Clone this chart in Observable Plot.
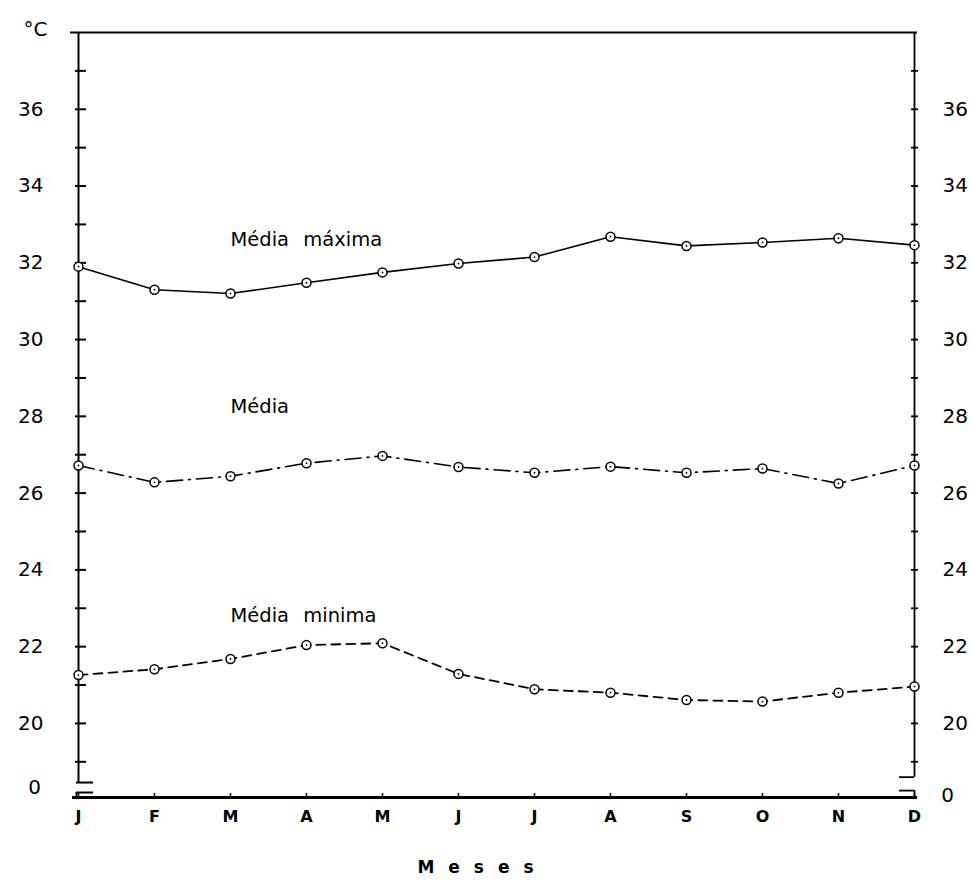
<!DOCTYPE html>
<html><head><meta charset="utf-8">
<script src="https://cdn.jsdelivr.net/npm/d3@7"></script>
<script src="https://cdn.jsdelivr.net/npm/@observablehq/plot@0.6"></script>
<style>body{margin:0;background:#fff}</style>
</head><body><div id="chart"></div>
<script>
const months = ["Jan","Fev","Mar","Abr","Mai","Jun","Jul","Ago","Set","Out","Nov","Dez"];
const mediaMaxima = [31.9,31.3,31.2,31.48,31.75,31.98,32.15,32.68,32.44,32.53,32.64,32.46];
const media = [26.72,26.28,26.44,26.78,26.97,26.68,26.53,26.69,26.53,26.64,26.25,26.72];
const mediaMinima = [21.26,21.41,21.68,22.04,22.09,21.29,20.89,20.80,20.61,20.57,20.80,20.96];
const yTicks = d3.range(19, 38);
const yTickLabels = [20,22,24,26,28,30,32,34,36];
const labelText = ["Média máxima","Média","Média minima"];
const labelMonth = ["Mar","Mar","Mar"];
const labelValue = [32.45,28.1,22.64];
const yBase = 18.07, yTop = 38;
const zeroLabelLeft = 18.33, zeroLabelRight = 18.12;

const rows = (vals) => months.map((m,i)=>({month:m, value:vals[i]}));
const maxRows = rows(mediaMaxima), medRows = rows(media), minRows = rows(mediaMinima);
const labels = labelText.map((t,i)=>({text:t, month:labelMonth[i], value:labelValue[i]}));

const dots = (data) => [
  Plot.dot(data, {x:"month", y:"value", r:4.5, fill:"white", stroke:"black", strokeWidth:1.5}),
  Plot.dot(data, {x:"month", y:"value", r:0.9, fill:"black"})
];

const chart = Plot.plot({
  width: 973, height: 887,
  marginLeft: 75, marginRight: 56, marginTop: 32, marginBottom: 90,
  style: {fontFamily: "DejaVu Sans", background: "white", color: "black"},
  x: {type:"point", domain: months, padding: 0},
  y: {domain:[yBase, yTop]},
  marks: [
    Plot.ruleY([yTop], {insetLeft:-5, strokeWidth:1.8}),
    Plot.ruleX(["Jan"], {x: d=>d, y1: 18.46, y2: yTop, strokeWidth:2}),
    Plot.ruleX(["Dez"], {x: d=>d, y1: 18.6, y2: yTop, strokeWidth:1.8}),
    Plot.ruleY([yBase], {strokeWidth:3, insetLeft:-3}),
    Plot.ruleY([18.46, 18.2], {y: d=>d, x1: ()=>"Jan", x2: ()=>"Jan", insetLeft:-2, insetRight:-15, strokeWidth:2}),
    Plot.ruleX(["Jan"], {x: d=>d, y1: yBase, y2: 18.2, dx:-2, strokeWidth:2}),
    Plot.ruleY([18.6, 18.25], {y: d=>d, x1: ()=>"Dez", x2: ()=>"Dez", insetLeft:-15, strokeWidth:1.8}),
    Plot.ruleX(["Dez"], {x: d=>d, y1: yBase, y2: 18.25, strokeWidth:1.8}),
    Plot.axisY(yTicks, {anchor:"left", tickSize:-11, strokeWidth:2, tickFormat: ()=>"", label:null}),
    Plot.axisY(yTickLabels, {anchor:"left", tickSize:0, tickPadding:32, fontSize:20, label:null}),
    Plot.axisY(yTicks, {anchor:"right", tickSize:-7, strokeWidth:1.8, tickFormat: ()=>"", label:null}),
    Plot.axisY(yTickLabels, {anchor:"right", tickSize:0, tickPadding:25, fontSize:20, label:null}),
    Plot.axisX(months, {anchor:"bottom", tickSize:-4, strokeWidth:1.5, tickFormat: ()=>"", label:null}),
    Plot.axisX(months, {anchor:"bottom", tickSize:0, tickPadding:13, fontSize:16, fontWeight:"bold", tickFormat: d=>d[0], label:null}),
    Plot.text(["0"], {x: ()=>"Jan", y: ()=>zeroLabelLeft, dx:-44, fontSize:20}),
    Plot.text(["0"], {x: ()=>"Dez", y: ()=>zeroLabelRight, dx:33, fontSize:20}),
    Plot.text(["°C"], {frameAnchor:"top-left", dx:-52, dy:-11, fontSize:20}),
    Plot.text(["Meses"], {frameAnchor:"bottom", dx:-14, dy:75, fontSize:17, fontWeight:"bold"}),
    Plot.line(maxRows, {x:"month", y:"value", stroke:"black", strokeWidth:1.6}),
    Plot.line(medRows, {x:"month", y:"value", stroke:"black", strokeWidth:1.6, strokeDasharray:"16,6,2,6"}),
    Plot.line(minRows, {x:"month", y:"value", stroke:"black", strokeWidth:1.8, strokeDasharray:"9,6"}),
    ...dots(maxRows), ...dots(medRows), ...dots(minRows),
    Plot.text(labels, {x:"month", y:"value", text:"text", textAnchor:"start", lineAnchor:"bottom", fontSize:19.5})
  ]
});
d3.select(chart).selectAll("text").each(function(){
  const t = d3.select(this);
  if (t.text() === "Meses") t.attr("letter-spacing", "14px");
  if (t.text() === "Média máxima" || t.text() === "Média minima") t.attr("word-spacing", "8px");
});
document.getElementById("chart").append(chart);
</script>
</body></html>
